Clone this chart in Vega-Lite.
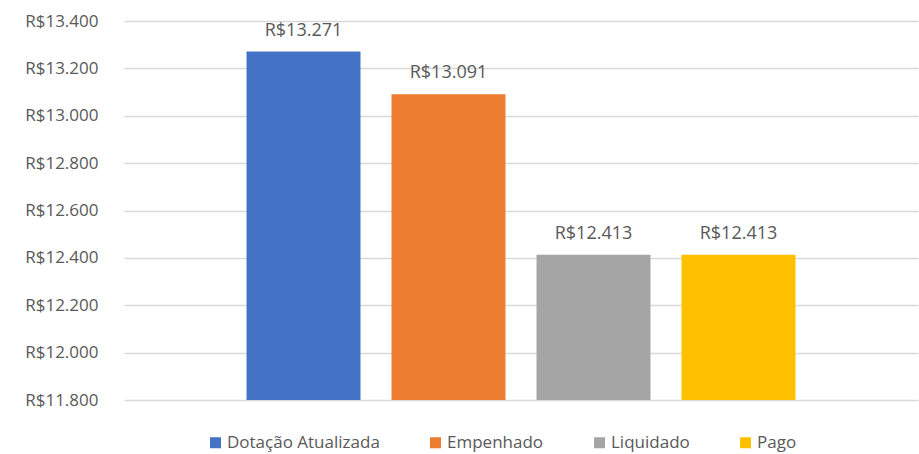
{
  "$schema": "https://vega.github.io/schema/vega-lite/v6.json",
  "width": 794,
  "height": 379,
  "autosize": {"type": "none"},
  "padding": {"left": 124, "top": 21, "right": 1, "bottom": 54},
  "background": "white",
  "data": {
    "values": [
      {"serie": "Dotação Atualizada", "valor": 13271},
      {"serie": "Empenhado", "valor": 13091},
      {"serie": "Liquidado", "valor": 12413},
      {"serie": "Pago", "valor": 12413}
    ]
  },
  "encoding": {
    "x": {
      "field": "serie",
      "type": "nominal",
      "sort": null,
      "axis": null,
      "scale": {"paddingInner": 0.214, "paddingOuter": 0.845}
    },
    "y": {
      "field": "valor",
      "type": "quantitative",
      "scale": {"domain": [11800, 13400], "zero": false, "nice": false},
      "axis": {
        "values": [11800, 12000, 12200, 12400, 12600, 12800, 13000, 13200, 13400],
        "format": "$,.0f",
        "title": null,
        "domain": false,
        "ticks": false,
        "labelPadding": 26,
        "labelFont": "Open Sans",
        "labelFontSize": 17,
        "labelColor": "#595959",
        "gridColor": "#D9D9D9",
        "gridWidth": 1.3
      }
    }
  },
  "layer": [
    {
      "mark": {"type": "bar", "clip": true},
      "encoding": {
        "color": {
          "field": "serie",
          "type": "nominal",
          "sort": null,
          "scale": {
            "domain": ["Dotação Atualizada", "Empenhado", "Liquidado", "Pago"],
            "range": ["#4472C4", "#ED7D31", "#A5A5A5", "#FFC000"]
          },
          "legend": {
            "title": null,
            "orient": "none",
            "direction": "horizontal",
            "legendX": 83,
            "legendY": 413,
            "symbolType": "square",
            "symbolSize": 121,
            "symbolStrokeWidth": 0,
            "labelFont": "Open Sans",
            "labelFontSize": 17,
            "labelColor": "#595959",
            "labelOffset": 3,
            "columnPadding": 47
          }
        }
      }
    },
    {
      "mark": {
        "type": "text",
        "baseline": "bottom",
        "dy": -12,
        "font": "Open Sans",
        "fontSize": 18,
        "color": "#595959"
      },
      "encoding": {
        "text": {"field": "valor", "type": "quantitative", "format": "$,.0f"}
      }
    }
  ],
  "config": {
    "view": {"stroke": null},
    "locale": {
      "number": {
        "decimal": ",",
        "thousands": ".",
        "grouping": [3],
        "currency": ["R$", ""]
      }
    }
  }
}
